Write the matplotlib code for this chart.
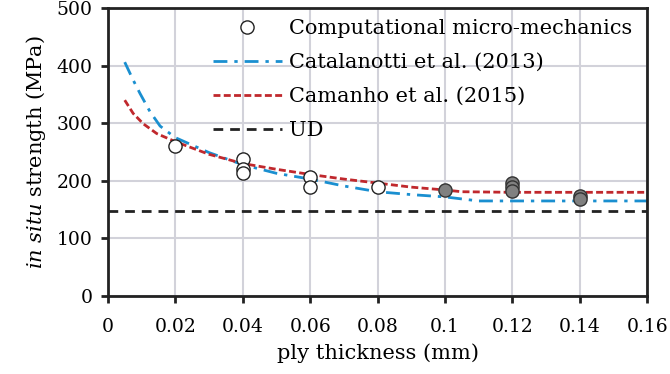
import numpy as np
import matplotlib
matplotlib.use('Agg')
import matplotlib.pyplot as plt

plt.rcParams['font.family'] = ['DejaVu Serif']
plt.rcParams['mathtext.fontset'] = 'custom'
plt.rcParams['mathtext.it'] = 'DejaVu Serif:italic'
plt.rcParams['mathtext.rm'] = 'DejaVu Serif'

# computational micro-mechanics (white = small plies, gray = thicker plies)
white_x = [0.02, 0.04, 0.04, 0.04, 0.06, 0.06, 0.08]
white_y = [261, 238, 220, 214, 206, 189, 190]
gray_x = [0.1, 0.12, 0.12, 0.12, 0.14, 0.14]
gray_y = [184, 196, 190, 183, 174, 168]

# Catalanotti et al. (2013)
cat_x = [0.005, 0.0075, 0.0095, 0.0125, 0.0155, 0.02, 0.03, 0.04, 0.05, 0.06,
         0.07, 0.08, 0.09, 0.1, 0.11, 0.12, 0.14, 0.16]
cat_y = [406, 375, 352, 320, 295, 275, 249, 228, 213, 203,
         191, 181, 176, 172, 165, 165, 165, 165]

# Camanho et al. (2015)
cam_x = [0.005, 0.0075, 0.0105, 0.0145, 0.02, 0.03, 0.04, 0.05, 0.06, 0.07,
         0.08, 0.09, 0.1, 0.105, 0.12, 0.14, 0.16]
cam_y = [340, 317, 299, 282, 268, 246, 230, 220, 211, 203,
         196, 189, 184, 181, 180, 180, 180]

# UD reference
ud_x = [0.0, 0.16]
ud_y = [148, 148]

xticks = [0, 0.02, 0.04, 0.06, 0.08, 0.1, 0.12, 0.14, 0.16]
xticklabels = ['0', '0.02', '0.04', '0.06', '0.08', '0.1', '0.12', '0.14', '0.16']
yticks = [0, 100, 200, 300, 400, 500]

fig = plt.figure(figsize=(6.7, 3.74), dpi=100)
ax = fig.add_axes([0.161, 0.2086, 0.805, 0.77])

ax.plot(white_x, white_y, 'o', ms=9.5, mfc='white', mec='#222222', mew=1.0,
        zorder=5, label='Computational micro-mechanics')
ax.plot(gray_x, gray_y, 'o', ms=9.5, mfc='#808080', mec='#333333', mew=1.0,
        zorder=5)
ax.plot(cat_x, cat_y, color='#1a8fd0', lw=2.0, dashes=(5, 2.5, 1.2, 2.5),
        label='Catalanotti et al. (2013)')
ax.plot(cam_x, cam_y, color='#c0282d', lw=2.0, dashes=(2.5, 1.2),
        label='Camanho et al. (2015)')
ax.plot(ud_x, ud_y, color='#222222', lw=2.0, dashes=(3.5, 2.5), label='UD')

ax.set_xlim(0, 0.16)
ax.set_ylim(0, 500)
ax.set_xticks(xticks)
ax.set_xticklabels(xticklabels)
ax.set_yticks(yticks)
ax.grid(True, color='#d2d2da', lw=1.5)
ax.set_axisbelow(True)
for s in ax.spines.values():
    s.set_linewidth(2.0)
    s.set_color('#222222')
ax.tick_params(direction='out', length=5, width=2, color='#222222',
               labelsize=13.5)
ax.tick_params(axis='x', pad=11)
ax.tick_params(axis='y', pad=6)

ax.set_xlabel('ply thickness (mm)', fontsize=15, labelpad=5)
ax.set_ylabel(r'$\it{in\ situ}$ strength (MPa)', fontsize=15, labelpad=6)

leg = ax.legend(loc='upper left', bbox_to_anchor=(0.195, 0.962), frameon=False,
                fontsize=15, handlelength=3.3, handletextpad=0.35,
                labelspacing=0.72, borderaxespad=0, borderpad=0)

fig.savefig('out.png', dpi=100)
